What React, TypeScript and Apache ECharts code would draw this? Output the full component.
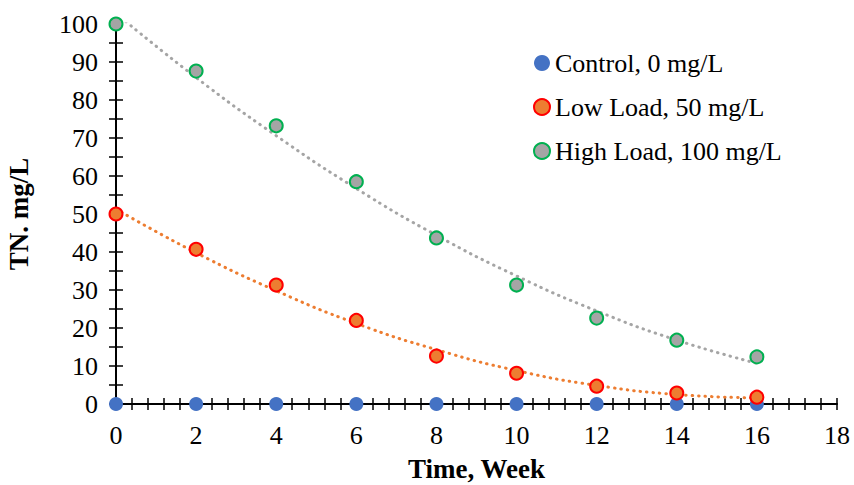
import React, { useEffect, useRef } from "react";
import * as echarts from "echarts";

const weeks = [0, 2, 4, 6, 8, 10, 12, 14, 16];
const controlValues = [0, 0, 0, 0, 0, 0, 0, 0, 0];
const lowValues = [50, 40.7, 31.3, 22, 12.6, 8.1, 4.7, 2.9, 1.8];
const highValues = [100, 87.6, 73.2, 58.5, 43.7, 31.3, 22.6, 16.8, 12.4];
const lowTrend = [51.3, 39.8, 29.8, 21.2, 14.3, 8.8, 4.9, 2.5, 1.6];
const highTrend = [102.8, 85.9, 70.6, 56.7, 44.4, 33.7, 24.5, 16.8, 10.7];
const seriesNames = ["Control, 0 mg/L", "Low Load, 50 mg/L", "High Load, 100 mg/L"];

const FONT = "'Liberation Serif', 'Times New Roman', serif";

const pairs = (ys: number[]) => weeks.map((x, i) => [x, ys[i]]);

export default function App() {
  const ref = useRef<HTMLDivElement>(null);
  useEffect(() => {
    document.body.style.margin = "0";
    const chart = echarts.init(ref.current!, null, { renderer: "svg" });
    const tickStyle = { color: "#000", width: 1.5 };
    const baseX = {
      type: "value",
      min: 0,
      max: 18,
      interval: 2,
      splitLine: { show: false },
    };
    const baseY = {
      type: "value",
      min: 0,
      max: 100,
      interval: 10,
      splitLine: { show: false },
    };
    chart.setOption({
      animation: false,
      grid: { left: 116, right: 17, top: 24, bottom: 81, containLabel: false, outerBoundsMode: "none" },
      xAxis: [
        {
          ...baseX,
          name: "Time, Week",
          nameLocation: "middle",
          nameGap: 51,
          nameTextStyle: { fontFamily: FONT, fontSize: 27, fontWeight: "bold", color: "#000" },
          axisLine: { show: true, lineStyle: { color: "#000", width: 2 } },
          axisTick: { show: true, inside: false, length: 6, lineStyle: tickStyle },
          minorTick: { show: true, splitNumber: 5, length: 6, lineStyle: tickStyle },
          axisLabel: { fontFamily: FONT, fontSize: 26, color: "#000", margin: 18 },
        },
        {
          ...baseX,
          axisLine: { show: false },
          axisTick: { show: true, inside: true, length: 6, lineStyle: tickStyle },
          minorTick: { show: true, splitNumber: 5, length: 6, lineStyle: tickStyle },
          axisLabel: { show: false },
          position: "bottom",
        },
      ],
      yAxis: [
        {
          ...baseY,
          name: "TN. mg/L",
          nameLocation: "middle",
          nameGap: 84,
          nameRotate: 90,
          nameTextStyle: { fontFamily: FONT, fontSize: 27, fontWeight: "bold", color: "#000" },
          axisLine: { show: true, lineStyle: { color: "#000", width: 2 } },
          axisTick: { show: true, inside: false, length: 7, lineStyle: tickStyle },
          minorTick: { show: true, splitNumber: 2, length: 7, lineStyle: tickStyle },
          axisLabel: { fontFamily: FONT, fontSize: 26, color: "#000", margin: 18 },
        },
        {
          ...baseY,
          axisLine: { show: false },
          axisTick: { show: true, inside: true, length: 7, lineStyle: tickStyle },
          minorTick: { show: true, splitNumber: 2, length: 7, lineStyle: tickStyle },
          axisLabel: { show: false },
          position: "left",
        },
      ],
      legend: {
        data: seriesNames,
        orient: "vertical",
        left: 528,
        top: 45,
        icon: "circle",
        itemWidth: 16,
        itemHeight: 16,
        itemGap: 18,
        textStyle: { fontFamily: FONT, fontSize: 26, color: "#000", lineHeight: 26 },
      },
      series: [
        {
          type: "line",
          data: pairs(highTrend),
          smooth: true,
          showSymbol: false,
          silent: true,
          z: 2,
          lineStyle: { color: "#A5A5A5", width: 3, type: [0.5, 6], cap: "round" },
        },
        {
          type: "line",
          data: pairs(lowTrend),
          smooth: true,
          showSymbol: false,
          silent: true,
          z: 2,
          lineStyle: { color: "#ED7D31", width: 3, type: [0.5, 6], cap: "round" },
        },
        {
          name: seriesNames[0],
          type: "scatter",
          data: pairs(controlValues),
          symbolSize: 14,
          clip: false,
          z: 5,
          itemStyle: { color: "#4472C4", opacity: 1 },
        },
        {
          name: seriesNames[1],
          type: "scatter",
          data: pairs(lowValues),
          symbolSize: 13,
          clip: false,
          z: 5,
          itemStyle: { color: "#ED7D31", borderColor: "#FF0000", borderWidth: 2, opacity: 1 },
        },
        {
          name: seriesNames[2],
          type: "scatter",
          data: pairs(highValues),
          symbolSize: 13,
          clip: false,
          z: 5,
          itemStyle: { color: "#A5A5A5", borderColor: "#00B050", borderWidth: 2, opacity: 1 },
        },
      ],
    });
    return () => chart.dispose();
  }, []);
  return <div ref={ref} style={{ width: 854, height: 485, position: "absolute", left: 0, top: 0 }} />;
}
